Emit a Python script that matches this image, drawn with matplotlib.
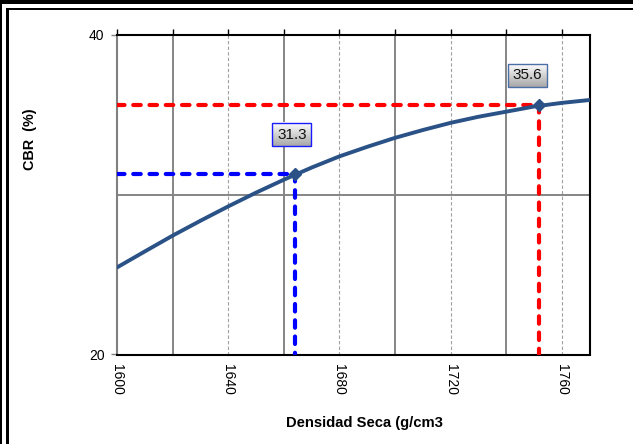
import numpy as np
import matplotlib
matplotlib.use("Agg")
import matplotlib.pyplot as plt
from matplotlib.patches import Rectangle

plt.rcParams['font.family'] = ['Liberation Sans', 'DejaVu Sans']

# Curve: CBR (%) versus dry density
density = [1600, 1610, 1620, 1630, 1640, 1650, 1660, 1670, 1680,
           1690, 1700, 1710, 1720, 1730, 1740, 1750, 1760, 1770]
cbr = [25.45, 26.45, 27.44, 28.37, 29.27, 30.13, 30.94, 31.70, 32.40,
       33.00, 33.56, 34.05, 34.50, 34.88, 35.20, 35.52, 35.75, 35.93]

# Points
low_density, low_cbr = 1664, 31.3
high_density, high_cbr = 1752, 35.6

x_ticks = [1600, 1640, 1680, 1720, 1760]
y_ticks = [20, 40]
solid_grid_x = [1620, 1660, 1700, 1740]
dashed_grid_x = [1640, 1680, 1720, 1760]

W, H = 633, 444
fig = plt.figure(figsize=(W / 100, H / 100), dpi=100)
fig.patch.set_facecolor('white')
ax = fig.add_axes([117 / W, 1 - 354.5 / H, (589.5 - 117) / W, (354.5 - 35) / H])

xmin, xmax, ymin, ymax = 1600, 1770, 20, 40

# grid
for gx in solid_grid_x:
    ax.axvline(gx, color='#858585', lw=1.4, zorder=1)
for gx in dashed_grid_x:
    ax.axvline(gx, color='#a0a0a0', lw=0.8, ls=(0, (3, 2)), zorder=1)
ax.axhline(30, color='#858585', lw=1.4, zorder=1)

# guide lines to the axes
dash = (0, (1.8, 2.1))
guide = dict(lw=3, ls=dash, dash_capstyle='round', zorder=3)
ax.plot([xmin, high_density], [high_cbr, high_cbr], color='#ff0000', **guide)
ax.plot([high_density, high_density], [high_cbr, ymin], color='#ff0000', **guide)
ax.plot([xmin, low_density], [low_cbr, low_cbr], color='#0000ff', **guide)
ax.plot([low_density, low_density], [low_cbr, ymin], color='#0000ff', **guide)

# curve
curve_color = '#2a5286'
ax.plot(density, cbr, color=curve_color, lw=2.8, zorder=4, solid_capstyle='round')
ax.plot([low_density, high_density], [low_cbr, high_cbr], ls='none', marker='D',
        ms=6, color=curve_color, zorder=5)

ax.set_xlim(xmin, xmax)
ax.set_ylim(ymin, ymax)

# value labels
labels = []
for xv, yv, off, ec in [(low_density, low_cbr, (-2.2, 28.4), '#1a1aff'),
                        (high_density, high_cbr, (-8.6, 21.6), '#4a6fa5')]:
    t = ax.annotate(f"{yv:.1f}", xy=(xv, yv), xytext=off, textcoords='offset points',
                    ha='center', va='center', fontsize=11, color='#111111', zorder=7,
                    bbox=dict(boxstyle='square,pad=0.3', fc='none', ec=ec, lw=1.0))
    labels.append(t)

fig.canvas.draw()
renderer = fig.canvas.get_renderer()
grad = np.linspace(1.0, 0.66, 32)[:, None] * np.ones((1, 8))
inv = ax.transData.inverted()
for t in labels:
    bb = t.get_bbox_patch().get_window_extent(renderer)
    (x0, y0), (x1, y1) = inv.transform([(bb.x0, bb.y0), (bb.x1, bb.y1)])
    ax.imshow(grad, cmap='gray', vmin=0, vmax=1, extent=(x0, x1, y0, y1),
              origin='upper', aspect='auto', zorder=6, interpolation='bilinear')
ax.set_xlim(xmin, xmax)
ax.set_ylim(ymin, ymax)
ax.set_aspect('auto')

# axes styling
ax.set_xticks(x_ticks)
ax.set_xticks(np.arange(1600, 1761, 20), minor=True)
ax.set_yticks(y_ticks)
ax.set_xticklabels([str(v) for v in x_ticks], rotation=-90, fontsize=10)
ax.set_yticklabels([str(v) for v in y_ticks], fontsize=10)
ax.tick_params(axis='x', which='both', top=True, bottom=False, labeltop=False,
               labelbottom=True, direction='out', length=4, width=1, color='black', pad=2.5)
ax.tick_params(axis='y', which='both', left=True, right=False, direction='out',
               length=4, width=1, color='#808080', pad=5)
for side in ['top', 'right', 'bottom']:
    ax.spines[side].set_color('black')
    ax.spines[side].set_linewidth(1.5)
ax.spines['left'].set_color('#808080')
ax.spines['left'].set_linewidth(1.5)

fig.text(364 / W, 1 - 423 / H, "Densidad Seca (g/cm3", ha='center', va='center',
         fontsize=10.6, fontweight='bold')
fig.text(30 / W, 1 - 139 / H, "CBR  (%)", ha='center', va='center', rotation=90,
         fontsize=10.4, fontweight='bold')

# chart frame
def px_rect(x, y, w, h):
    fig.add_artist(Rectangle((x / W, 1 - (y + h) / H), w / W, h / H,
                             transform=fig.transFigure, color='black', lw=0, zorder=10))

px_rect(0, 0, W, 4)
px_rect(0, 0, 2, H)
px_rect(6, 8, W - 6, 2.5)
px_rect(6, 8, 3, H - 8)

fig.savefig("out.png", dpi=100)
